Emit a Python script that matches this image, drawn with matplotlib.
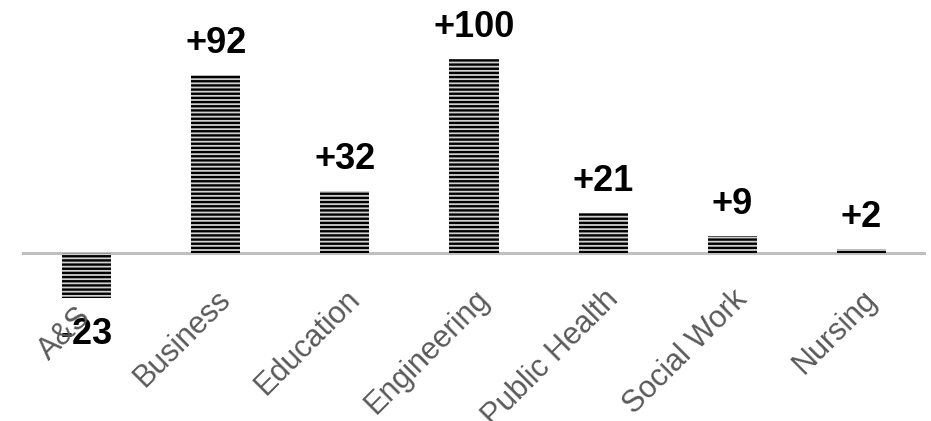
import matplotlib
matplotlib.use("Agg")
import matplotlib.pyplot as plt

# data
colleges = ["A&S", "Business", "Education", "Engineering", "Public Health", "Social Work", "Nursing"]
change = [-23, 92, 32, 100, 21, 9, 2]
value_labels = ["-23", "+92", "+32", "+100", "+21", "+9", "+2"]

plt.rcParams["font.family"] = ["Liberation Sans", "DejaVu Sans"]
plt.rcParams["hatch.linewidth"] = 1.7
plt.rcParams["hatch.color"] = "black"

W, H = 931, 421
fig = plt.figure(figsize=(W / 100, H / 100), dpi=100)
# axes spans y=100 (top) .. y=-23 (bottom) in pixels
ax = fig.add_axes([22 / W, (H - 298) / H, 904 / W, (298 - 59) / H])

x = range(len(colleges))
bars = ax.bar(x, change, width=0.38, color="#d0d0d0", edgecolor="black",
              linewidth=0, hatch="----")

ax.set_xlim(-0.5, len(colleges) - 0.5)
ax.set_ylim(-23, 100)
ax.axhline(0, color="#bfbfbf", linewidth=2.2, zorder=0)

for s in ax.spines.values():
    s.set_visible(False)
ax.set_xticks([])
ax.set_yticks([])

# value labels above/below bars
for i, (v, lab) in enumerate(zip(change, value_labels)):
    off = 14 if v >= 0 else -19
    ax.annotate(lab, (i, v), xytext=(0, off), textcoords="offset pixels",
                ha="center", va="bottom" if v >= 0 else "top",
                fontsize=26, fontweight="bold", color="black",
                annotation_clip=False)

# category labels, rotated 45 deg under the zero line
# (the short A&S label sits a bit further down-left in the original)
for i, name in enumerate(colleges):
    dx, dy = (0, -31) if i > 0 else (-11, -48)
    ax.annotate(name, (i, 0), xytext=(dx, dy), textcoords="offset pixels",
                ha="right", va="top", rotation=45, rotation_mode="anchor",
                fontsize=22, color="#595959", annotation_clip=False)

fig.savefig("out.png", dpi=100)
